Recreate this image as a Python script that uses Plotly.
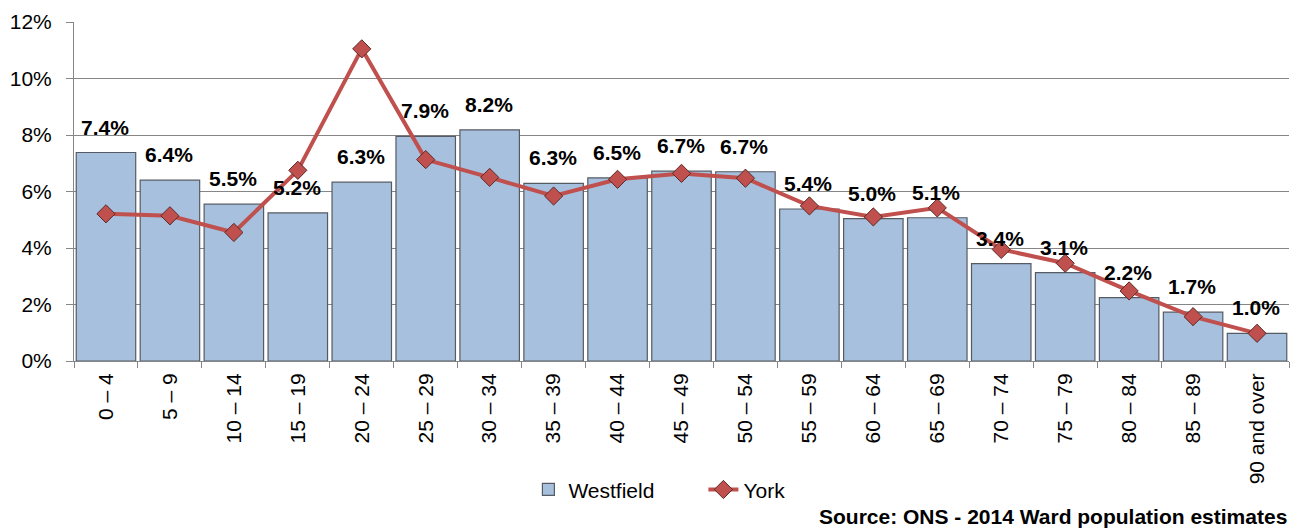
import plotly.graph_objects as go

AGE_BANDS = [
    "0 – 4", "5 – 9", "10 – 14", "15 – 19", "20 – 24", "25 – 29", "30 – 34",
    "35 – 39", "40 – 44", "45 – 49", "50 – 54", "55 – 59", "60 – 64",
    "65 – 69", "70 – 74", "75 – 79", "80 – 84", "85 – 89", "90 and over",
]
WESTFIELD = [7.38, 6.40, 5.55, 5.24, 6.33, 7.95, 8.18, 6.29, 6.48, 6.72, 6.70,
             5.38, 5.04, 5.07, 3.45, 3.13, 2.24, 1.73, 0.98]
WESTFIELD_LABELS = ["7.4%", "6.4%", "5.5%", "5.2%", "6.3%", "7.9%", "8.2%",
                    "6.3%", "6.5%", "6.7%", "6.7%", "5.4%", "5.0%", "5.1%",
                    "3.4%", "3.1%", "2.2%", "1.7%", "1.0%"]
YORK = [5.21, 5.14, 4.55, 6.75, 11.05, 7.13, 6.50, 5.84, 6.43, 6.64, 6.47,
        5.49, 5.10, 5.42, 3.95, 3.46, 2.48, 1.57, 0.98]

FONT = "Liberation Sans, Arial, sans-serif"
GRID = "#868686"

fig = go.Figure()
fig.add_trace(go.Bar(
    x=AGE_BANDS, y=WESTFIELD, name="Westfield",
    marker=dict(color="#a7c0de", line=dict(color="#555b63", width=1.2)),
))
fig.add_trace(go.Scatter(
    x=AGE_BANDS, y=YORK, name="York", mode="lines+markers",
    line=dict(color="#c0504d", width=4),
    marker=dict(symbol="diamond", size=14, color="#c0504d",
                line=dict(color="#5a2a28", width=1)),
))

# bar value labels
for band, val, lab in zip(AGE_BANDS, WESTFIELD, WESTFIELD_LABELS):
    fig.add_annotation(x=band, y=val, text=f"<b>{lab}</b>", showarrow=False,
                       yanchor="bottom", yshift=12, xshift=-1,
                       font=dict(family=FONT, size=21, color="#000000"))

fig.add_annotation(x=1.0, y=-0.458, xref="paper", yref="paper",
                   xanchor="right", yanchor="middle", showarrow=False,
                   text="<b>Source: ONS - 2014 Ward population estimates</b>",
                   font=dict(family=FONT, size=21, color="#000000"))

fig.update_layout(
    width=1299, height=531,
    margin=dict(l=70, r=10, t=18, b=170),
    plot_bgcolor="#ffffff", paper_bgcolor="#ffffff",
    font=dict(family=FONT, size=21, color="#000000"),
    bargap=0.07,
    showlegend=True,
    legend=dict(orientation="h", x=0.374, xanchor="left", y=-0.38,
                yanchor="middle", font=dict(size=21), itemwidth=30,
                entrywidth=130, entrywidthmode="pixels",
                traceorder="normal"),
    xaxis=dict(range=[-0.5, 18.5], tickangle=-90, ticks="outside",
               tickson="boundaries", ticklen=6, tickcolor=GRID,
               ticklabelstandoff=3, showline=True, linecolor=GRID,
               linewidth=1, showgrid=False),
    yaxis=dict(range=[0, 12], dtick=2, ticksuffix="%", gridcolor=GRID,
               gridwidth=1, showline=True, linecolor=GRID, ticks="outside",
               ticklen=7, tickcolor=GRID, ticklabelstandoff=10,
               zeroline=False),
)

fig.write_html("out.html", config={"displayModeBar": False},
               post_script="document.body.style.margin='0';")
